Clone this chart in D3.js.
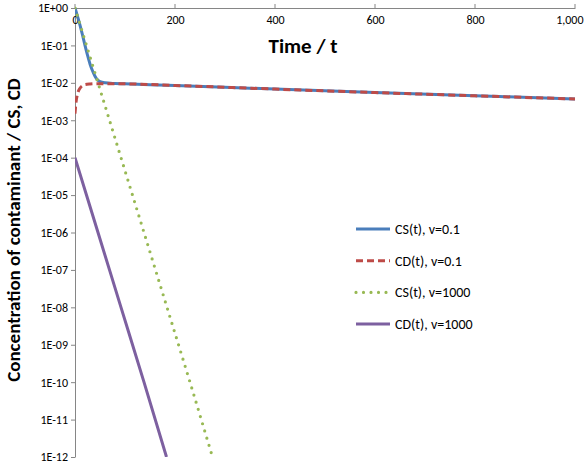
<!DOCTYPE html>
<html><head><meta charset="utf-8">
<script src="https://cdn.jsdelivr.net/npm/d3@7"></script>
<style>body{margin:0;background:#fff;font-family:Calibri,Carlito,"Liberation Sans",sans-serif}</style>
</head><body><svg id="c" width="584" height="466"></svg>
<script>
const csLow = [[0,1],[5,0.6],[10,0.35],[15,0.19],[20,0.1],[25,0.055],[30,0.032],[35,0.021],[40,0.015],[45,0.012],[50,0.0108],[60,0.0100],[80,0.0096],[100,0.0094],[200,0.0085],[400,0.0068],[600,0.0055],[800,0.0045],[1000,0.0037]];
const cdLow = [[0,0.0015],[2,0.003],[5,0.005],[10,0.0072],[15,0.0084],[20,0.009],[30,0.0093],[50,0.0095],[100,0.0094],[200,0.0085],[400,0.0068],[600,0.0055],[800,0.0045],[1000,0.0037]];
const csHigh = [[0,1],[46,1e-2],[92,1e-4],[138,1e-6],[184,1e-8],[230,1e-10],[275,1e-12]];
const cdHigh = [[0,1e-4],[46,1e-6],[92,1e-8],[138,1e-10],[183,1e-12]];
const yTicks = d3.range(0,-13,-1).map(e => Math.pow(10,e));
const xTicks = [0,200,400,600,800,1000];
const series = [
  {name:"CS(t), v=0.1", data:csLow, color:"#4a7ebb", dash:null, w:3},
  {name:"CD(t), v=0.1", data:cdLow, color:"#be4b48", dash:"7,4", w:3},
  {name:"CS(t), v=1000", data:csHigh, color:"#98b954", dash:"0,7.5", w:3.2},
  {name:"CD(t), v=1000", data:cdHigh, color:"#7d60a0", dash:null, w:3}
];
const svg = d3.select("#c");
const x = d3.scaleLinear().domain([0,1000]).range([75,575]);
const y = d3.scaleLog().domain([1e-12,1]).range([457,8]);
const fmt = v => { const e = Math.round(Math.log10(v)); return "1E" + (e<0?"-":"+") + String(Math.abs(e)).padStart(2,"0"); };
const ff = "Calibri,Carlito,'Liberation Sans',sans-serif";

svg.append("g").attr("transform","translate(75,0)")
  .call(d3.axisLeft(y).tickValues(yTicks).tickFormat(fmt).tickSize(4).tickSizeOuter(0))
  .call(g => { g.selectAll("path,line").attr("stroke","#868686");
    g.selectAll("text").attr("font-size",12).attr("fill","#000").attr("font-family",ff); });
svg.append("g").attr("transform","translate(0,8)")
  .call(d3.axisBottom(x).tickValues(xTicks).tickSize(0).tickSizeOuter(0).tickPadding(7))
  .call(g => { g.selectAll("path,line").attr("stroke","#868686");
    g.selectAll("text").attr("font-size",12).attr("fill","#000").attr("font-family",ff)
      .filter(d => d === 1000).attr("text-anchor","end").attr("dx",8); });
svg.append("g").selectAll("line").data(xTicks).join("line")
  .attr("x1",d=>x(d)).attr("x2",d=>x(d)).attr("y1",8).attr("y2",4).attr("stroke","#868686");

const line = d3.line().x(d=>x(d[0])).y(d=>y(d[1]));
svg.append("defs").append("clipPath").attr("id","clip").append("rect").attr("x",75).attr("y",0).attr("width",505).attr("height",457);
series.forEach(s => svg.append("path").attr("clip-path","url(#clip)").datum(s.data).attr("d",line.curve(d3.curveMonotoneX))
  .attr("fill","none").attr("stroke",s.color).attr("stroke-width",s.w)
  .attr("stroke-dasharray",s.dash).attr("stroke-linecap",s.dash&&s.dash.startsWith("0")?"round":"butt"));

svg.append("text").attr("x",303).attr("y",53).attr("text-anchor","middle").attr("font-size",21).attr("font-weight","bold").text("Time / t");
svg.append("text").attr("transform","translate(20,230) rotate(-90)").attr("text-anchor","middle").attr("font-size",19).attr("font-weight","bold").text("Concentration of contaminant / CS, CD");

const lg = svg.append("g").selectAll("g").data(series).join("g").attr("transform",(d,i)=>`translate(356,${229+i*31.7})`);
lg.append("line").attr("x1",0).attr("x2",34).attr("stroke",d=>d.color).attr("stroke-width",d=>d.w)
  .attr("stroke-dasharray",d=>d.dash).attr("stroke-linecap",d=>d.dash&&d.dash.startsWith("0")?"round":"butt");
lg.append("text").attr("x",39).attr("y",5).attr("font-size",14).text(d=>d.name);
</script></body></html>
